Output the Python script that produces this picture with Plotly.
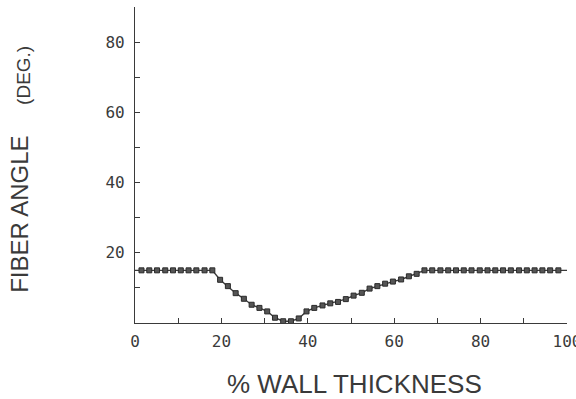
import plotly.graph_objects as go

# % wall thickness (sample positions) and fiber angle (deg.)
wall_pct = [1.5, 3.3, 5.1, 7.0, 8.8, 10.6, 12.4, 14.2, 16.1, 17.9,
            19.7, 21.5, 23.3, 25.2, 27.0, 28.8, 30.6, 32.4, 34.3, 36.1,
            37.9, 39.7, 41.5, 43.4, 45.2, 47.0, 48.8, 50.6, 52.5, 54.3,
            56.1, 57.9, 59.7, 61.6, 63.4, 65.2, 67.0, 68.8, 70.7, 72.5,
            74.3, 76.1, 77.9, 79.8, 81.6, 83.4, 85.2, 87.0, 88.9, 90.7,
            92.5, 94.3, 96.1, 98.0]
fiber_angle = [15, 15, 15, 15, 15, 15, 15, 15, 15, 15,
               12.3, 10.5, 8.5, 6.9, 5.2, 4.3, 3.3, 1.5, 0.5, 0.5,
               1.3, 3.3, 4.3, 5.0, 5.6, 6.0, 6.8, 7.8, 8.6, 9.8,
               10.5, 11.2, 11.8, 12.4, 13.3, 14.0, 15, 15, 15, 15,
               15, 15, 15, 15, 15, 15, 15, 15, 15, 15,
               15, 15, 15, 15]
# the curve runs on to the axis ends at the same angle
line_x = [0] + wall_pct + [100]
line_y = [fiber_angle[0]] + fiber_angle + [fiber_angle[-1]]

x_ticks = [0, 20, 40, 60, 80, 100]
y_ticks = [20, 40, 60, 80]

INK = "#3a3a3a"
TICK_FONT = dict(family="DejaVu Sans Mono", size=16, color=INK)

fig = go.Figure()
fig.add_trace(go.Scatter(x=line_x, y=line_y, mode="lines",
                         line=dict(color=INK, width=1.4),
                         hoverinfo="skip", showlegend=False))
fig.add_trace(go.Scatter(x=wall_pct, y=fiber_angle, mode="markers",
                         marker=dict(symbol="square", size=5, color="#555555",
                                     line=dict(color="#2a2a2a", width=1)),
                         showlegend=False))

fig.update_layout(
    width=576, height=399,
    margin=dict(l=135, r=9, t=7, b=76, autoexpand=False),
    paper_bgcolor="white", plot_bgcolor="white",
    xaxis=dict(range=[0, 100], tickvals=x_ticks, ticktext=[str(v) for v in x_ticks],
               showgrid=False, zeroline=False, showline=True, linecolor=INK, linewidth=1.2,
               ticks="inside", ticklen=5, tickcolor=INK, tickwidth=1,
               minor=dict(tickvals=[10, 30, 50, 70, 90], ticks="inside", ticklen=5,
                          tickcolor=INK, tickwidth=1),
               tickfont=TICK_FONT, ticklabelstandoff=4, ticklabeloverflow="allow",
               automargin=False),
    yaxis=dict(range=[0, 90], tickvals=y_ticks, ticktext=[str(v) for v in y_ticks],
               showgrid=False, zeroline=False, showline=True, linecolor=INK, linewidth=1.2,
               ticks="inside", ticklen=5, tickcolor=INK, tickwidth=1,
               minor=dict(tickvals=[10, 30, 50, 70], ticks="inside", ticklen=5,
                          tickcolor=INK, tickwidth=1),
               tickfont=TICK_FONT, ticklabelstandoff=6, automargin=False),
)

fig.add_annotation(text="% WALL THICKNESS", xref="paper", yref="paper",
                   x=0.507, y=-0.193, showarrow=False,
                   font=dict(family="Liberation Sans", size=26, color=INK),
                   xanchor="center", yanchor="middle")
fig.add_annotation(text="FIBER ANGLE", xref="paper", yref="paper",
                   x=-0.268, y=0.343, showarrow=False, textangle=-90,
                   font=dict(family="Liberation Sans", size=24, color=INK),
                   xanchor="center", yanchor="middle")
fig.add_annotation(text="(DEG.)", xref="paper", yref="paper",
                   x=-0.257, y=0.785, showarrow=False, textangle=-90,
                   font=dict(family="Liberation Sans", size=19, color=INK),
                   xanchor="center", yanchor="middle")

fig.write_html("out.html", config={"displayModeBar": False},
               post_script="document.body.style.margin='0';document.body.style.overflow='hidden';")
